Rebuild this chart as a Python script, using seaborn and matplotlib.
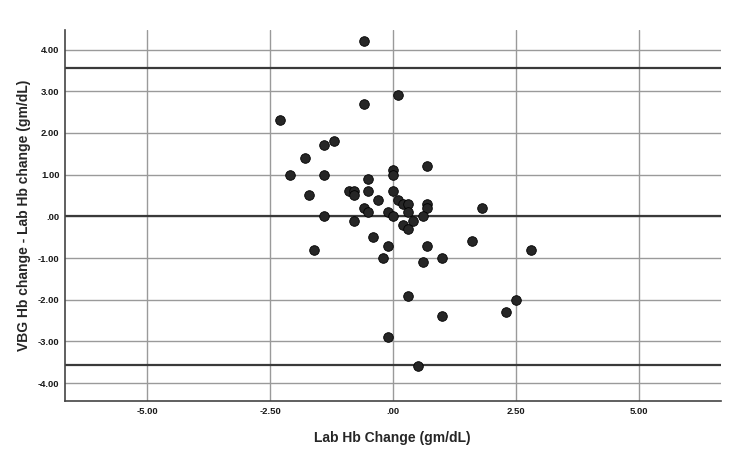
import numpy as np
import pandas as pd
import matplotlib.pyplot as plt
import seaborn as sns
from matplotlib.ticker import FuncFormatter

# === Données ===
lab_change = [-0.6, 0.1, -0.6, -2.3, -1.2, -1.4, -1.8, -2.1, -1.4, 0.7,
              0.0, 0.0, -0.5, -1.7, -0.9, -0.8, -0.8, -0.5, 0.0, -0.3,
              0.1, 0.2, 0.3, 0.7, 0.7, 1.8, -0.6, -0.5, -0.1, 0.3,
              -1.4, 0.0, 0.6, -0.8, 0.4, 0.2, 0.3, -0.4, -1.6, -0.1,
              -0.2, 0.7, 0.6, 1.0, 1.6, 0.3, 1.0, -0.1, 0.5, 2.8,
              2.5, 2.3]
diff_change = [4.2, 2.9, 2.7, 2.3, 1.8, 1.7, 1.4, 1.0, 1.0, 1.2,
               1.1, 1.0, 0.9, 0.5, 0.6, 0.6, 0.5, 0.6, 0.6, 0.4,
               0.4, 0.3, 0.3, 0.3, 0.2, 0.2, 0.2, 0.1, 0.1, 0.1,
               0.0, 0.0, 0.0, -0.1, -0.1, -0.2, -0.3, -0.5, -0.8, -0.7,
               -1.0, -0.7, -1.1, -1.0, -0.6, -1.9, -2.4, -2.9, -3.6, -0.8,
               -2.0, -2.3]
ref_lines = [3.56, 0.0, -3.56]
x_ticks = [-5.0, -2.5, 0.0, 2.5, 5.0]
y_ticks = [-4, -3, -2, -1, 0, 1, 2, 3, 4]

df = pd.DataFrame({"lab": lab_change, "diff": diff_change})

def fmt(v, pos):
    s = f"{v:.2f}"
    if s in ("0.00", "-0.00"):
        return ".00"
    return s

# === Graphique ===
sns.set_style("white")
plt.rcParams['font.family'] = ['Liberation Sans', 'DejaVu Sans']

fig = plt.figure(figsize=(7.5, 4.68), dpi=100)
ax = fig.add_axes([0.0867, 0.143, 0.874, 0.793])

for xt in x_ticks:
    ax.axvline(xt, color="#9a9a9a", linewidth=1.0, zorder=0)
for yt in y_ticks:
    ax.axhline(yt, color="#9a9a9a", linewidth=1.0, zorder=0)
for r in ref_lines:
    ax.axhline(r, color="#3a3a3a", linewidth=1.6, zorder=1)

sns.scatterplot(data=df, x="lab", y="diff", ax=ax, s=48, color="#262626",
                edgecolor="black", linewidth=0.6, zorder=3)

ax.set_xlim(-6.67, 6.66)
ax.set_ylim(-4.43, 4.47)
ax.set_xticks(x_ticks)
ax.set_yticks(y_ticks)
ax.xaxis.set_major_formatter(FuncFormatter(fmt))
ax.yaxis.set_major_formatter(FuncFormatter(fmt))
ax.tick_params(axis="both", length=0, labelsize=6.8, pad=4, colors="#1a1a1a")
for lbl in ax.get_xticklabels() + ax.get_yticklabels():
    lbl.set_fontweight("bold")

for side in ["top", "right"]:
    ax.spines[side].set_visible(False)
for side in ["left", "bottom"]:
    ax.spines[side].set_color("#444444")
    ax.spines[side].set_linewidth(1.2)

ax.set_xlabel("Lab Hb Change (gm/dL)", fontsize=10, fontweight="bold", labelpad=11)
ax.set_ylabel("VBG Hb change - Lab Hb change (gm/dL)", fontsize=10, fontweight="bold", labelpad=5)

fig.savefig("out.png", dpi=100, facecolor="white")
